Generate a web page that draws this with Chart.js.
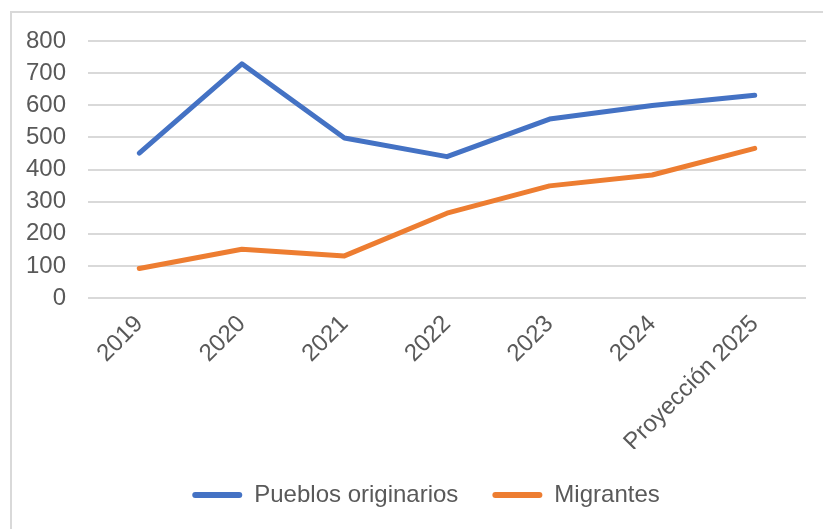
<!DOCTYPE html>
<html>
<head>
<meta charset="utf-8">
<script src="https://cdn.jsdelivr.net/npm/chart.js@4"></script>
<style>
  html, body { margin: 0; padding: 0; background: #fff; overflow: hidden; }
  #frame {
    position: absolute; left: 10px; top: 11px;
    width: 830px; height: 530px;
    border-left: 2px solid #d9d9d9; border-top: 2px solid #d9d9d9;
  }
</style>
</head>
<body>
<div id="frame"><canvas id="chart"></canvas></div>
<script>
// chart values
const labels = ['2019', '2020', '2021', '2022', '2023', '2024', 'Proyección 2025'];
const pueblosOriginarios = [451, 729, 498, 440, 557, 599, 631];
const migrantes = [92, 152, 131, 264, 349, 383, 466];
const yTicks = [0, 100, 200, 300, 400, 500, 600, 700, 800];

const textColor = '#595959';
const fontFamily = '"Liberation Sans", Arial, sans-serif';

const canvas = document.getElementById('chart');
canvas.width = 830;
canvas.height = 516;
canvas.style.width = '830px';
canvas.style.height = '516px';

// the chart in the picture is wider than the window, so the legend sits a bit right of the plot centre
const shiftLegend = {
    id: 'shiftLegend',
    afterLayout(chart) {
        chart.legend.left += 17;
        chart.legend.right += 17;
    }
};

new Chart(canvas.getContext('2d'), {
    type: 'line',
    data: {
        labels,
        datasets: [
            {
                label: 'Pueblos originarios',
                data: pueblosOriginarios,
                borderColor: '#4472C4',
                backgroundColor: '#4472C4',
                borderWidth: 5,
                pointRadius: 0,
                tension: 0,
                borderCapStyle: 'round',
                borderJoinStyle: 'round'
            },
            {
                label: 'Migrantes',
                data: migrantes,
                borderColor: '#ED7D31',
                backgroundColor: '#ED7D31',
                borderWidth: 5,
                pointRadius: 0,
                tension: 0,
                borderCapStyle: 'round',
                borderJoinStyle: 'round'
            }
        ]
    },
    plugins: [shiftLegend],
    options: {
        responsive: false,
        animation: false,
        layout: { padding: { top: 28, right: 36, bottom: 12, left: 0 } },
        plugins: {
            tooltip: { enabled: false },
            legend: {
                position: 'bottom',
                labels: {
                    color: textColor,
                    font: { family: fontFamily, size: 24 },
                    boxWidth: 50,
                    boxHeight: 6,
                    padding: 34,
                    useBorderRadius: true,
                    borderRadius: 3,
                    generateLabels: chart => chart.data.datasets.map((ds, i) => ({
                        text: ds.label,
                        fillStyle: ds.borderColor,
                        strokeStyle: ds.borderColor,
                        lineWidth: 0,
                        borderRadius: 3,
                        datasetIndex: i,
                        fontColor: textColor
                    }))
                }
            }
        },
        scales: {
            x: {
                offset: true,
                grid: { display: false },
                border: { display: false },
                ticks: {
                    color: textColor,
                    font: { family: fontFamily, size: 24 },
                    minRotation: 45,
                    maxRotation: 45,
                    autoSkip: false,
                    padding: 4
                },
                afterFit: scale => { scale.height = 151; }
            },
            y: {
                min: 0,
                max: 800,
                afterBuildTicks: scale => { scale.ticks = yTicks.map(v => ({ value: v })); },
                grid: { color: '#d9d9d9', lineWidth: 2, drawTicks: false },
                border: { display: false },
                ticks: {
                    color: textColor,
                    font: { family: fontFamily, size: 24 },
                    autoSkip: false,
                    padding: 22
                },
                afterFit: scale => {
                    scale.width = 76;
                    scale.paddingTop = 0;
                    scale.paddingBottom = 0;
                }
            }
        }
    }
});
</script>
</body>
</html>
